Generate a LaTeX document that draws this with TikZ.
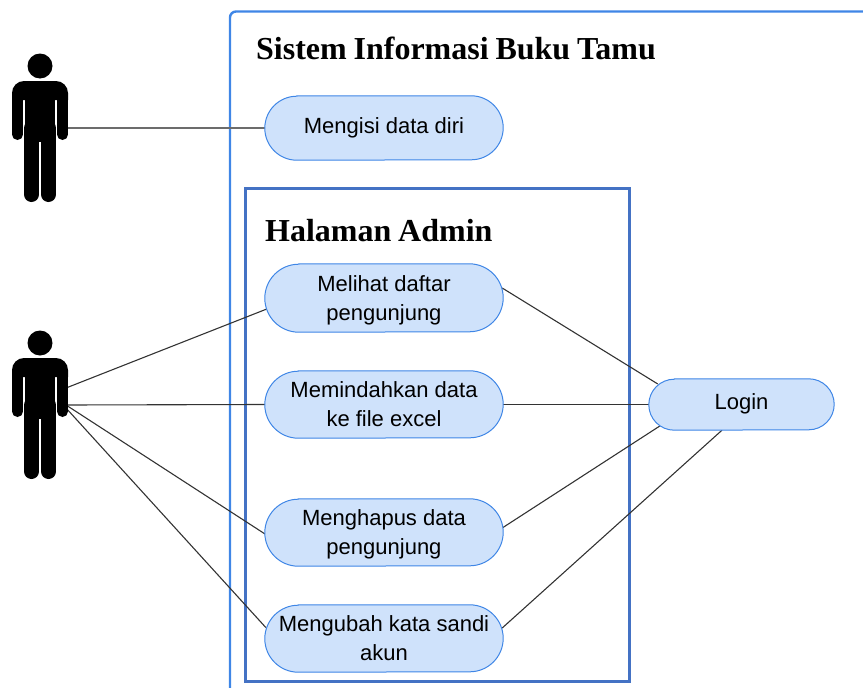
\documentclass[tikz,border=0pt]{standalone}
\usepackage{fontspec}
\setmainfont{Liberation Sans}
\newfontfamily\titlefont[WordSpace=0.85]{Liberation Serif}
\pgfdeclarelayer{boxes}
\pgfdeclarelayer{pills}
\pgfsetlayers{boxes,pills,main}
\definecolor{pillfill}{HTML}{CFE2FB}
\definecolor{pillline}{HTML}{3F86E6}
\definecolor{outerline}{HTML}{3F86E6}
\definecolor{innerline}{HTML}{4472C4}
\definecolor{linkline}{HTML}{333333}
\newcommand\lowertext{\rule{0pt}{20pt}}
\newcommand\pillpath[2]{%
  \draw[pillline,fill=pillfill,line width=1pt]
    ([xshift=#2]#1.north west) -- ([xshift=-#2]#1.north east)
    arc[start angle=90,end angle=-90,radius=#2]
    -- ([xshift=#2]#1.south west)
    arc[start angle=-90,end angle=-270,radius=#2] -- cycle;}
\tikzset{
  usecase/.style={rectangle,minimum width=238pt,inner sep=0pt,align=center,font=\fontsize{22}{29}\selectfont},
  link/.style={draw=linkline,line width=1.1pt},
  boxtitle/.style={anchor=base west,inner sep=0pt,font=\titlefont\bfseries\fontsize{32}{36}\selectfont},
  actorshape/.pic={
    \fill[black] (0,-62) circle (12.5);
    \fill[black] (-15,-30) rectangle (15,14);
    \fill[black] (-28,-28) [rounded corners=12pt] -- (-28,-47) -- (28,-47) [sharp corners] -- (28,-28) -- cycle;
    \draw[black,line width=11pt,line cap=round] (-22.5,-30) -- (-22.5,6.5);
    \draw[black,line width=11pt,line cap=round] (22.5,-30) -- (22.5,6.5);
    \draw[black,line width=15pt,line cap=round] (-8.5,0) -- (-8.5,66.5);
    \draw[black,line width=15pt,line cap=round] (8.5,0) -- (8.5,66.5);
  }
}
\begin{document}
\begin{tikzpicture}[x=1pt,y=-1pt]
\useasboundingbox (0,0) rectangle (863,688);
% titles
\node[boxtitle] (sistem) at (256,59) {Sistem Informasi Buku Tamu};
\node[boxtitle] (halaman) at (265,241) {Halaman Admin};
% actors
\pic at (40,128) {actorshape};
\pic at (40,405) {actorshape};
\coordinate (userhand) at (66,128);
\coordinate (adminhand) at (66,405);
\coordinate (adminhandtop) at (66,388);
\coordinate (adminhandlow) at (66,408);
% use cases
\node[usecase,minimum height=64pt] (isi) at (384,128) {\raisebox{4pt}{Mengisi data diri}};
\node[usecase,minimum height=68pt] (lihat) at (384,298) {\lowertext Melihat daftar\\pengunjung};
\node[usecase,minimum height=67pt] (pindah) at (384,404.5) {Memindahkan data\\ke file excel};
\node[usecase,minimum height=67pt] (hapus) at (384,532.5) {\lowertext Menghapus data\\pengunjung};
\node[usecase,minimum height=67pt] (ubah) at (384,638.5) {Mengubah kata sandi\\akun};
\node[usecase,minimum width=185pt,minimum height=51pt] (login) at (741.5,404.5) {\raisebox{5pt}{Login}};
\begin{pgfonlayer}{boxes}
\draw[outerline,line width=2.4pt,rounded corners=6pt] (230,690) -- (230,11.5) -- (865,11.5);
\node[draw=innerline,line width=3pt,minimum width=384pt,minimum height=493pt,inner sep=0pt] (admin) at (437.5,435) {};
\draw[link,draw=gray!85!black] (userhand) -- (isi.west);
\draw[link] (adminhandtop) -- ([shift={(2,11)}]lihat.west);
\draw[link] (adminhand) -- (pindah.west);
\draw[link] (adminhand) -- ([shift={(1,2)}]hapus.west);
\draw[link] (adminhandlow) -- ([shift={(1,-11)}]ubah.west);
\draw[link] ([shift={(-1,-10)}]lihat.east) -- ([shift={(9,-20.5)}]login.west);
\draw[link] (pindah.east) -- (login.west);
\draw[link] ([shift={(-1,-4.5)}]hapus.east) -- ([shift={(11,21.5)}]login.west);
\draw[link] ([shift={(-1,-10.5)}]ubah.east) -- ([shift={(-19.5,0)}]login.south);
\end{pgfonlayer}
\begin{pgfonlayer}{pills}
\pillpath{isi}{32pt}
\pillpath{lihat}{34pt}
\pillpath{pindah}{33.5pt}
\pillpath{hapus}{33.5pt}
\pillpath{ubah}{33.5pt}
\pillpath{login}{25.5pt}
\end{pgfonlayer}
\end{tikzpicture}
\end{document}
